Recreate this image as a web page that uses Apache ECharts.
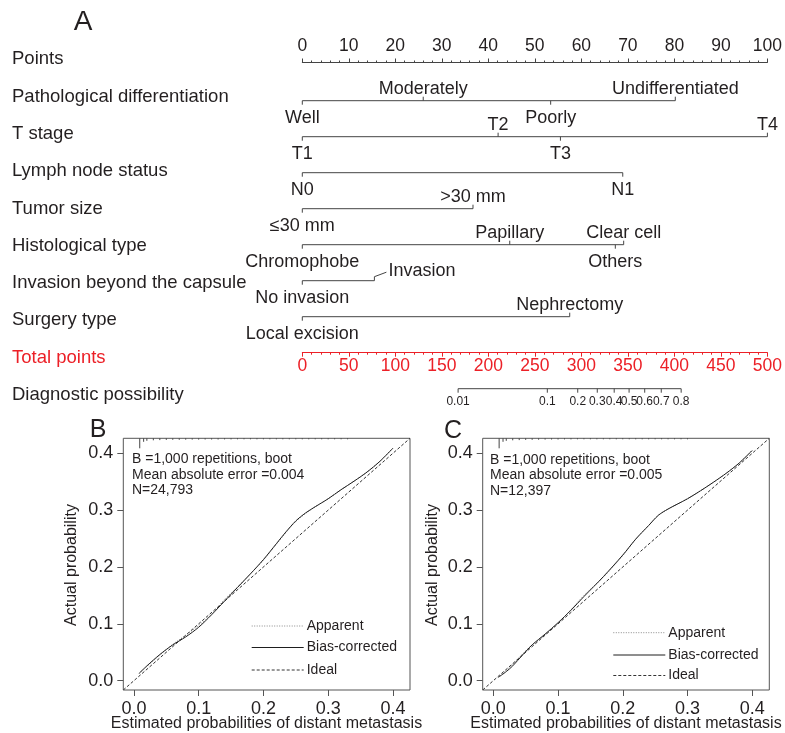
<!DOCTYPE html>
<html><head><meta charset="utf-8">
<script src="https://cdn.jsdelivr.net/npm/echarts@6/dist/echarts.min.js"></script>
<style>html,body{margin:0;padding:0;background:#fff}#c{width:785px;height:733px}</style>
</head><body><div id="c"></div>
<script>
// ================= DATA =================
const rowTitles = ['Points','Pathological differentiation','T stage','Lymph node status','Tumor size','Histological type','Invasion beyond the capsule','Surgery type','Total points','Diagnostic possibility'];

const pathLevels = ['Well','Moderately','Poorly','Undifferentiated'];
const pathPoints = [0, 26.0, 53.4, 80.2];
const tLevels = ['T1','T2','T3','T4'];
const tPoints = [0, 42.1, 55.5, 100];
const lnLevels = ['N0','N1'];
const lnPoints = [0, 68.9];
const sizeLevels = ['≤30 mm','>30 mm'];
const sizePoints = [0, 36.7];
const histLevels = ['Chromophobe','Papillary','Others','Clear cell'];
const histPoints = [0, 44.6, 67.3, 69.1];
const invLevels = ['No invasion','Invasion'];
const invPoints = [0, 15.5];
const surgLevels = ['Local excision','Nephrectomy'];
const surgPoints = [0, 57.5];

const diagProbLabels = ['0.01','0.1','0.2','0.3','0.4','0.5','0.6','0.7','0.8'];
const diagTotalPoints = [167.5, 263.4, 296.1, 317.1, 335.3, 351.3, 368.1, 385.9, 407.3];

const calTicks = [0, 0.1, 0.2, 0.3, 0.4];
const legendNames = ['Apparent', 'Bias-corrected', 'Ideal'];

const bX        = [0.008,0.02,0.04,0.06,0.08,0.10,0.12,0.14,0.16,0.18,0.20,0.22,0.235,0.25,0.265,0.28,0.30,0.32,0.34,0.36,0.38,0.40];
const bBias     = [0.013,0.026,0.046,0.063,0.077,0.094,0.116,0.140,0.164,0.188,0.213,0.241,0.262,0.281,0.295,0.306,0.320,0.336,0.351,0.367,0.386,0.409];
const bApparent = [0.012,0.025,0.045,0.064,0.080,0.097,0.117,0.143,0.165,0.188,0.212,0.240,0.261,0.280,0.294,0.306,0.320,0.336,0.351,0.367,0.386,0.409];

const cX        = [0.008,0.02,0.03,0.045,0.06,0.08,0.10,0.12,0.14,0.17,0.20,0.22,0.24,0.255,0.27,0.285,0.30,0.32,0.34,0.36,0.38,0.40];
const cBias     = [0.006,0.016,0.026,0.045,0.063,0.082,0.102,0.124,0.148,0.183,0.221,0.249,0.273,0.291,0.302,0.311,0.320,0.334,0.349,0.365,0.383,0.405];
const cApparent = [0.006,0.018,0.029,0.047,0.063,0.081,0.101,0.125,0.150,0.182,0.220,0.249,0.273,0.291,0.302,0.311,0.320,0.334,0.349,0.365,0.383,0.405];

const bRugX = [0.009,0.015,0.02,0.03,0.04,0.05,0.06,0.07,0.08,0.09,0.10,0.11,0.12,0.13,0.14,0.15,0.16,0.17,0.18,0.19,0.20,0.21,0.22,0.23,0.24,0.25,0.26,0.27,0.28,0.29,0.30,0.31,0.32,0.33];
const bRugF = [1.0,0.35,0.25,0.2,0.18,0.16,0.15,0.15,0.14,0.13,0.13,0.12,0.12,0.12,0.11,0.11,0.1,0.1,0.1,0.1,0.1,0.1,0.1,0.1,0.1,0.1,0.1,0.1,0.1,0.1,0.1,0.1,0.1,0.1];
const cRugX = [0.009,0.015,0.02,0.03,0.04,0.05,0.06,0.07,0.08,0.09,0.10,0.11,0.12,0.13,0.14,0.15,0.16,0.17,0.18,0.19,0.20,0.21,0.22,0.23,0.24,0.25,0.26,0.27,0.28,0.29,0.30];
const cRugF = [1.0,0.35,0.25,0.2,0.18,0.16,0.15,0.14,0.13,0.12,0.12,0.11,0.11,0.1,0.1,0.1,0.1,0.1,0.1,0.1,0.1,0.1,0.1,0.1,0.1,0.1,0.1,0.1,0.1,0.1,0.1];

// ================= STYLE / BUILD =================
const FONT = '"Liberation Sans", Arial, Helvetica, sans-serif';
const TXT = '#231f20', LINE = '#444', RED = '#ec2027';
const calMin = -0.0164, calMax = 0.4264;

const variables = [
  {levels: pathLevels, pts: pathPoints},
  {levels: tLevels, pts: tPoints},
  {levels: lnLevels, pts: lnPoints},
  {levels: sizeLevels, pts: sizePoints},
  {levels: histLevels, pts: histPoints},
  {levels: invLevels, pts: invPoints},
  {levels: surgLevels, pts: surgPoints}
];
const noAlternate = [lnLevels];      // labels all below
const leaderLabels = ['Invasion'];   // label pulled aside with a leader

const levelItems = [];
const rowLines = [];
variables.forEach((v, i) => {
  const row = i + 1;
  const order = v.pts.map((p, k) => k).sort((a, b) => v.pts[a] - v.pts[b]);
  order.forEach((k, j) => {
    const alt = noAlternate.indexOf(v.levels) < 0;
    levelItems.push({pts: v.pts[k], row, label: v.levels[k], side: (alt && j % 2 === 1) ? -1 : 1, leader: leaderLabels.indexOf(v.levels[k]) >= 0});
  });
  rowLines.push([Math.min.apply(null, v.pts), Math.max.apply(null, v.pts), row]);
});
const diagRow = 9;

function txt(text, x, y, size, align, valign, color) {
  return {type: 'text', style: {text, x, y, fill: color || TXT, fontSize: size, fontFamily: FONT,
    align, textAlign: align, verticalAlign: valign, textVerticalAlign: valign}};
}
function seg(x1, y1, x2, y2, color, dash) {
  return {type: 'line', shape: {x1, y1, x2, y2}, style: {stroke: color || LINE, lineWidth: 1, lineDash: dash || null}};
}

const chart = echarts.init(document.getElementById('c'), null, {renderer: 'canvas'});

const calX = (g) => ({
  gridIndex: g, type: 'value', min: calMin, max: calMax,
  axisLine: {show: false, onZero: false},
  axisTick: {show: true, customValues: calTicks, length: 6, lineStyle: {color: '#555'}},
  axisLabel: {customValues: calTicks, formatter: v => v.toFixed(1), fontSize: 18, color: TXT, fontFamily: FONT, margin: 10},
  splitLine: {show: false}
});
const calY = (g) => ({
  gridIndex: g, type: 'value', min: calMin, max: calMax,
  axisLine: {show: false, onZero: false},
  axisTick: {show: true, customValues: calTicks, length: 6, lineStyle: {color: '#555'}},
  axisLabel: {customValues: calTicks, formatter: v => v.toFixed(1), fontSize: 18, color: TXT, fontFamily: FONT, margin: 10},
  splitLine: {show: false}
});

const apparentStyle = {color: '#8a8a8a', width: 1, type: [1, 1.5]};
const biasStyle = {color: '#1e1e1e', width: 1, type: 'solid'};
const idealStyle = {color: '#333', width: 1, type: [3, 2]};
const legendStyles = [apparentStyle, biasStyle, idealStyle];

function lineSeries(name, xs, ys, xi, yi, style, smooth) {
  return {type: 'line', name, xAxisIndex: xi, yAxisIndex: yi, data: xs.map((x, k) => [x, ys[k]]),
    symbol: 'none', smooth: smooth, lineStyle: style, itemStyle: {color: style.color}, color: style.color,
    silent: true, z: name === 'Bias-corrected' ? 4 : 3};
}

function rugSeries(xs, fs, xi, yi) {
  return {type: 'custom', xAxisIndex: xi, yAxisIndex: yi, data: xs.map((x, k) => [x, fs[k]]), silent: true,
    renderItem: (params, api) => {
      const c = api.coord([api.value(0), calMax]);
      const h = api.value(1) * 10;
      return seg(c[0], c[1], c[0], c[1] + h, '#444');
    }};
}

const graphics = [];
graphics.push(txt('A', 83, 22, 28, 'center', 'middle'));
graphics.push(txt('B', 98, 430, 25, 'center', 'middle'));
graphics.push(txt('C', 453, 431, 25, 'center', 'middle'));
rowTitles.forEach((t, i) => graphics.push(txt(t, 12, 59.3 + i * 37.3, 18.5, 'left', 'middle', t === 'Total points' ? RED : TXT)));
['B =1,000 repetitions, boot', 'Mean absolute error =0.004', 'N=24,793'].forEach((t, i) => graphics.push(txt(t, 132, 459.5 + i * 15.5, 14, 'left', 'middle')));
['B =1,000 repetitions, boot', 'Mean absolute error =0.005', 'N=12,397'].forEach((t, i) => graphics.push(txt(t, 490, 460 + i * 15.5, 14, 'left', 'middle')));
graphics.push(txt('Estimated probabilities of distant metastasis', 266.5, 724, 16, 'center', 'middle'));
graphics.push(txt('Estimated probabilities of distant metastasis', 626, 724, 16, 'center', 'middle'));
graphics.push(Object.assign(txt('Actual probability', 0, 0, 16, 'center', 'middle'), {x: 72, y: 565, rotation: Math.PI / 2}));
graphics.push(Object.assign(txt('Actual probability', 0, 0, 16, 'center', 'middle'), {x: 433, y: 565, rotation: Math.PI / 2}));

// legends (line sample + label)
function addLegend(x0, ys) {
  legendNames.forEach((n, i) => {
    const st = legendStyles[i];
    const dash = Array.isArray(st.type) ? st.type : null;
    graphics.push(seg(x0, ys[i], x0 + 52, ys[i], st.color, dash));
    graphics.push(txt(n, x0 + 55, ys[i], 14, 'left', 'middle'));
  });
}
addLegend(251.7, [626, 647.5, 670]);
addLegend(613.3, [632.7, 655, 675.5]);

chart.setOption({
  animation: false,
  backgroundColor: '#fff',
  grid: [
    {left: 302.3, top: 62.5, width: 467.7, height: 290.2},
    {left: 123.3, top: 438.3, width: 286.7, height: 251.7, show: true, borderColor: '#555', borderWidth: 1, backgroundColor: 'transparent'},
    {left: 482.7, top: 438.3, width: 286.6, height: 251.7, show: true, borderColor: '#555', borderWidth: 1, backgroundColor: 'transparent'}
  ],
  xAxis: [
    {gridIndex: 0, type: 'value', position: 'top', min: 0, max: 100, interval: 10,
      axisLine: {show: true, onZero: false, lineStyle: {color: LINE, width: 1}},
      axisTick: {show: true, length: 4, lineStyle: {color: LINE}},
      minorTick: {show: true, splitNumber: 5, length: 2, lineStyle: {color: LINE}},
      axisLabel: {color: TXT, fontSize: 17.5, fontFamily: FONT, margin: 7},
      splitLine: {show: false}},
    {gridIndex: 0, type: 'value', position: 'bottom', min: 0, max: 500, interval: 50,
      axisLine: {show: true, onZero: false, lineStyle: {color: RED, width: 1}},
      axisTick: {show: true, length: 4, lineStyle: {color: RED}},
      minorTick: {show: true, splitNumber: 5, length: 2, lineStyle: {color: RED}},
      axisLabel: {color: RED, fontSize: 17.5, fontFamily: FONT, margin: 4},
      splitLine: {show: false}},
    calX(1), calX(2)
  ],
  yAxis: [
    {gridIndex: 0, type: 'value', min: -0.061, max: 8, inverse: true, show: false},
    calY(1), calY(2)
  ],
  graphic: graphics,
  series: [
    {type: 'custom', xAxisIndex: 0, yAxisIndex: 0, data: rowLines, silent: true,
      renderItem: (params, api) => {
        const a = api.coord([api.value(0), api.value(2)]), b = api.coord([api.value(1), api.value(2)]);
        return seg(a[0], a[1], b[0], b[1]);
      }},
    {type: 'custom', xAxisIndex: 0, yAxisIndex: 0, data: levelItems.map(it => [it.pts, it.row]), silent: true,
      renderItem: (params, api) => {
        const it = levelItems[params.dataIndex];
        const c = api.coord([it.pts, it.row]);
        const s = it.side, L = 4;
        const ch = [seg(c[0], c[1], c[0], c[1] + s * L)];
        if (it.leader) {
          ch.push(seg(c[0], c[1] - L, c[0] + 12, c[1] - L - 4.5));
          ch.push(txt(it.label, c[0] + 14, c[1] - L - 5.5, 18, 'left', 'middle'));
        } else {
          ch.push(txt(it.label, c[0], s < 0 ? c[1] - 3 : c[1] + 8, 18, 'center', s < 0 ? 'bottom' : 'top'));
        }
        return {type: 'group', children: ch};
      }},
    {type: 'custom', xAxisIndex: 1, yAxisIndex: 0, data: diagTotalPoints.map(p => [p, diagRow]), silent: true,
      renderItem: (params, api) => {
        const i = params.dataIndex;
        const c = api.coord([api.value(0), api.value(1)]);
        const ch = [seg(c[0], c[1], c[0], c[1] + 4), txt(diagProbLabels[i], c[0], c[1] + 7, 12, 'center', 'top')];
        if (i === 0) {
          const e = api.coord([diagTotalPoints[diagTotalPoints.length - 1], diagRow]);
          ch.push(seg(c[0], c[1], e[0], e[1]));
        }
        return {type: 'group', children: ch};
      }},
    lineSeries('Apparent', bX, bApparent, 2, 1, apparentStyle, 0.3),
    lineSeries('Bias-corrected', bX, bBias, 2, 1, biasStyle, 0.3),
    lineSeries('Ideal', [calMin, calMax], [calMin, calMax], 2, 1, idealStyle, false),
    rugSeries(bRugX, bRugF, 2, 1),
    lineSeries('Apparent', cX, cApparent, 3, 2, apparentStyle, 0.3),
    lineSeries('Bias-corrected', cX, cBias, 3, 2, biasStyle, 0.3),
    lineSeries('Ideal', [calMin, calMax], [calMin, calMax], 3, 2, idealStyle, false),
    rugSeries(cRugX, cRugF, 3, 2)
  ]
});
</script></body></html>
